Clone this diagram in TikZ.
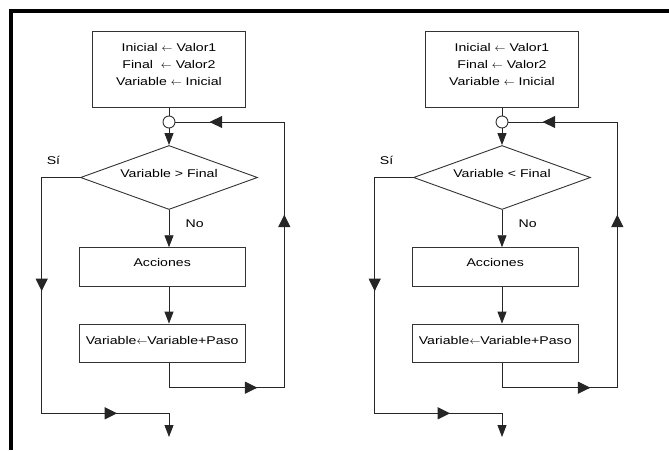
\documentclass[tikz,border=0pt]{standalone}
\usepackage{fontspec}
\setmainfont{Liberation Sans}[FakeStretch=1.26]
\usetikzlibrary{arrows.meta,shapes.geometric,decorations.markings}
\tikzset{
  conn/.style={line width=0.9pt, draw=black!85},
  tip/.style={-{Triangle[length=12pt,width=9pt]}},
  midtip/.style={postaction={decorate,decoration={markings,
      mark=at position #1 with {\arrow{Triangle[length=12.5pt,width=12pt]}}}}},
  box/.style={draw=black!80, line width=0.9pt, rectangle, inner sep=0pt,
      font=\fontsize{11.2}{17}\selectfont, text height=8pt},
  dec/.style={draw=black!80, line width=0.9pt, diamond, aspect=2.78, inner sep=0pt,
      minimum width=177pt, minimum height=64pt,
      font=\fontsize{11.2}{17}\selectfont, text height=8pt, text depth=8.4pt},
  joint/.style={draw=black!80, line width=0.9pt, circle, fill=white, inner sep=0pt,
      minimum size=12pt},
  lbl/.style={inner sep=0pt, font=\fontsize{11.2}{17}\selectfont},
  frame/.style={line width=4pt, draw=black},
}
\newcommand\flowchart[4]{%
\begin{scope}[xshift=#2pt]
  \node[box, minimum width=152.3pt, minimum height=76.7pt, text height=, text depth=]
    (#1top) at (169,69.3)
    {\begin{tabular}{@{}c@{}}Inicial $\leftarrow$ Valor1\\
      Final #4$\leftarrow$ Valor2\\ Variable $\leftarrow$ Inicial\\[9pt]\end{tabular}};
  \node[joint] (#1circ) at (169,122) {};
  \node[dec] (#1dia) at (169,177.5) {Variable #3 Final};
  \node[box, minimum width=165.7pt, minimum height=39pt, text depth=9pt]
    (#1acc) at (162.2,267.2) {Acciones};
  \node[box, minimum width=165.7pt, minimum height=38.3pt, text depth=6.4pt]
    (#1upd) at (162.2,343.2) {Variable$\leftarrow$Variable+Paso};
  \node[lbl] (#1si) at (53.5,160) {Sí};
  \node[lbl] (#1no) at (194.7,224) {No};
  \coordinate (#1r2) at (284.3,387.7);
  \coordinate (#1r3) at (284.3,122);
  \coordinate (#1s1) at (41.7,177.5);
  \coordinate (#1s3) at (169,413.3);
  \coordinate (#1s4) at (169,437);
  \draw[conn] (#1top) -- (#1circ);
  \draw[conn,tip] (#1circ) -- (#1dia);
  \draw[conn,tip] (#1dia) -- (#1dia |- #1acc.north);
  \draw[conn,tip] (#1acc.south -| #1dia) -- (#1upd.north -| #1dia);
  \draw[conn, midtip=113.3pt, midtip=313.3pt, midtip=480.6pt]
    (#1upd.south -| #1dia) |- (#1r2) -- (#1r3) -- (#1circ);
  \draw[conn, tip, midtip=152pt, midtip=349.6pt]
    (#1dia) -- (#1s1) |- (#1s3) -- (#1s4);
\end{scope}}
\begin{document}
\begin{tikzpicture}[x=1pt,y=-1pt]
  \useasboundingbox (0,0) rectangle (669,450);
  \coordinate (fa) at (11,450);
  \coordinate (fb) at (11,11.3);
  \coordinate (fc) at (669,11.3);
  \draw[frame] (fa) -- (fb) -- (fc);
  \flowchart{L}{0}{>}{\ }
  \flowchart{R}{333}{<}{}
\end{tikzpicture}
\end{document}
